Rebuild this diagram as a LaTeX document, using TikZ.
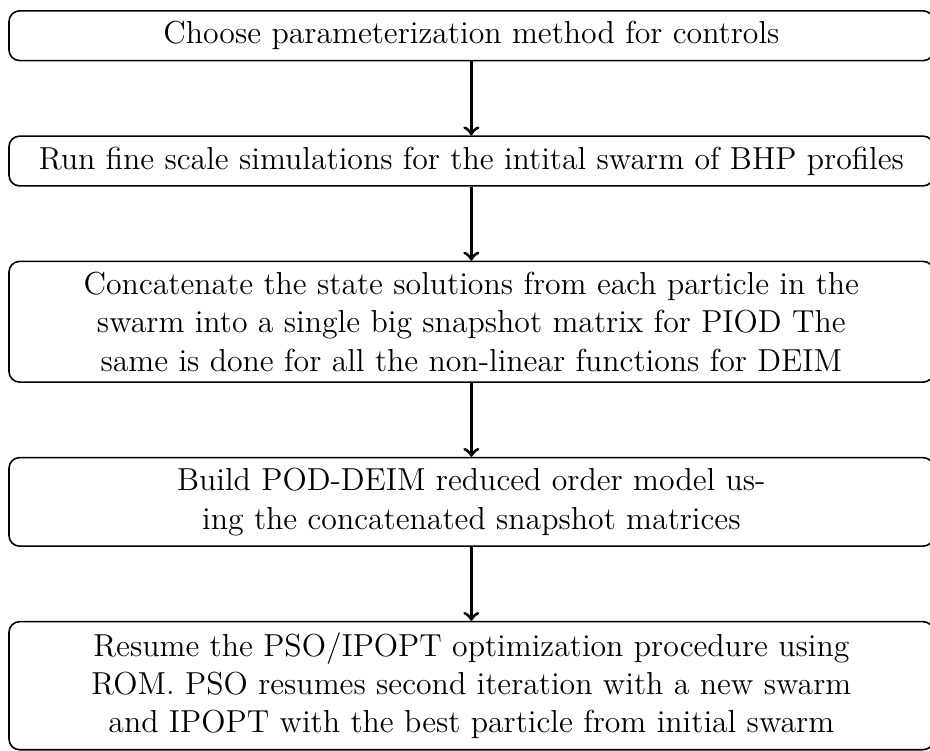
\documentclass[12pt,tikz,border=0pt]{standalone}
\usepackage{amsmath}
\usepackage{tikz}
\usetikzlibrary{positioning}
\tikzset{stepbox/.style={draw,semithick,rounded corners,align=center,minimum width=349pt,inner sep=4pt}}

\begin{document}
\begin{tikzpicture}[>=to, node distance=27.9pt]
    \useasboundingbox (-177.9pt,-279.6pt) rectangle (173.1pt,3.8pt);

    \node[stepbox, anchor=north] (param) at (0,0)
      {Choose parameterization method for controls};

    \node[stepbox, below=of param] (fine)
      {Run fine scale simulations for the intital swarm of BHP profiles};

    \node[stepbox, below=of fine] (concat)
      {Concatenate the state solutions from each particle in the\\
       swarm into a single big snapshot matrix for PIOD The\\
       same is done for all the non-linear functions for DEIM};

    \node[stepbox, below=of concat] (rom)
      {Build POD-DEIM reduced order model us-\\
       ing the concatenated snapshot matrices};

    \node[stepbox, below=of rom] (resume)
      {Resume the PSO/IPOPT optimization procedure using\\
       ROM. PSO resumes second iteration with a new swarm\\
       and IPOPT with the best particle from initial swarm};

    \draw[->, very thick] (param) -- (fine);
    \draw[->, very thick] (fine) -- (concat);
    \draw[->, very thick] (concat) -- (rom);
    \draw[->, very thick] (rom) -- (resume);
\end{tikzpicture}
\end{document}
